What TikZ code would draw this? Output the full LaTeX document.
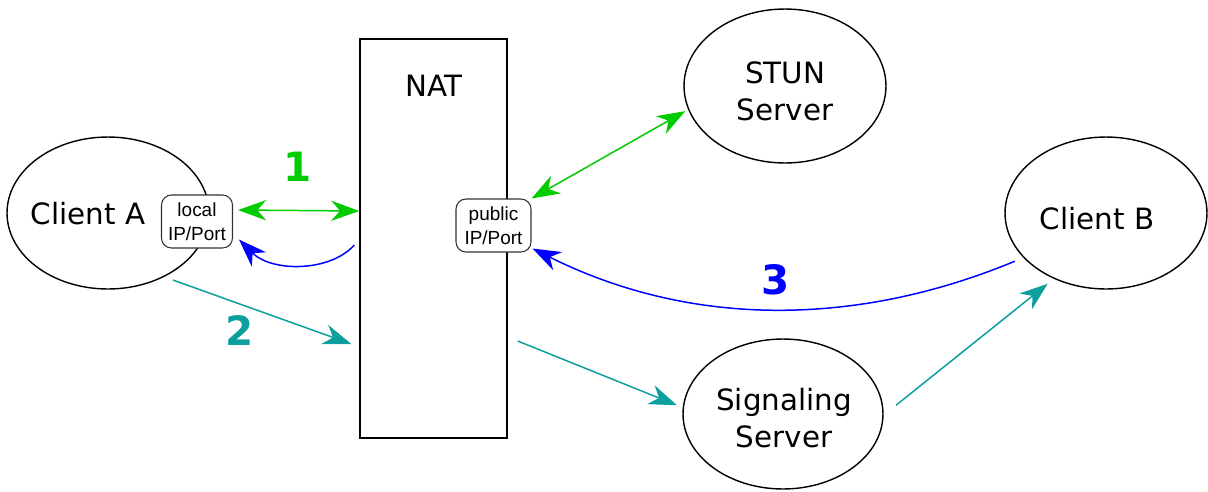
\documentclass[tikz,border=0pt]{standalone}
\usepackage{fontspec}
\setmainfont{DejaVu Sans}
\newfontfamily\portfont{Liberation Sans}
\usepackage{tikz}
\usetikzlibrary{arrows.meta}
\usetikzlibrary{shapes.geometric}
\definecolor{linkgreen}{RGB}{0,204,0}
\definecolor{linkteal}{RGB}{13,158,158}
\definecolor{linkblue}{RGB}{0,0,255}

\begin{document}
\begin{tikzpicture}[x=0.02cm, y=-0.02cm,
        >={Stealth[length=16pt, width=11.5pt, inset=5pt]},
        peer/.style={draw=black, line width=0.8pt, ellipse, minimum width=4.04cm, minimum height=3.04cm, inner sep=0pt},
        natbox/.style={draw=black, line width=0.8pt, minimum width=2.94cm, minimum height=7.98cm, inner sep=0pt},
        port/.style={draw=black!80, line width=0.6pt, fill=white, rounded corners=0.2cm, minimum width=1.42cm, minimum height=1.06cm, inner sep=0pt, align=center, font=\portfont\fontsize{10.8}{13.5}\selectfont},
        caption/.style={align=center, font=\fontsize{16.7}{21}\selectfont},
        num/.style={font=\bfseries\fontsize{23}{27}\selectfont},
        link/.style={line width=0.85pt}]
        \useasboundingbox (0,0) rectangle (1208,491);
        \node[peer] (clientA) at (108,213) {};
        \node[caption] (clientAtext) at (88,213.5) {Client A};
        \node[port] (local) at (197,221.5) {local\\IP/Port};
        \node[natbox] (nat) at (433.5,238.5) {};
        \node[caption] (nattext) at (434,85.5) {NAT};
        \node[port, minimum width=1.5cm] (public) at (493.5,225.5) {public\\IP/Port};
        \node[peer, minimum height=3.08cm] (stun) at (785,86) {};
        \node[caption] (stuntext) at (785,91.5) {STUN\\Server};
        \node[peer, minimum width=4cm, minimum height=3cm] (signal) at (783,414) {};
        \node[caption] (signaltext) at (784,418) {Signaling\\Server};
        \node[peer] (clientB) at (1106,213) {};
        \node[caption] (clientBtext) at (1097,219) {Client B};
        \draw[link, <->, linkgreen] ([shift={(5,-11.5)}]local.east) -- ([shift={(0,-27.5)}]nat.west);
        \draw[link, <->, linkgreen] (public.north east) -- ([shift={(-3,1)}]stun.194);
        \draw[link, ->, linkblue] ([shift={(-5,6.5)}]nat.west) .. controls +(-24,27) and +(33,33) .. ([shift={(6,-9)}]local.south east);
        \draw[link, ->, linkteal] ([shift={(5,5)}]clientA.-46) -- ([shift={(-8,105.5)}]nat.west);
        \draw[link, ->, linkteal] ([shift={(10,102.5)}]nat.east) -- ([shift={(-6,0)}]signal.175);
        \draw[link, ->, linkteal] ([shift={(13,0)}]signal.5) -- ([shift={(-4,6)}]clientB.230);
        \draw[link, ->, linkblue] ([shift={(-8,4)}]clientB.208) .. controls +(-159,66) and +(158,79) .. ([shift={(1,-4)}]public.south east);
        \node[num, text=linkgreen] (one) at (298,167) {1};
        \node[num, text=linkteal] (two) at (240,330) {2};
        \node[num, text=linkblue] (three) at (776,280) {3};
    \end{tikzpicture}
\end{document}
